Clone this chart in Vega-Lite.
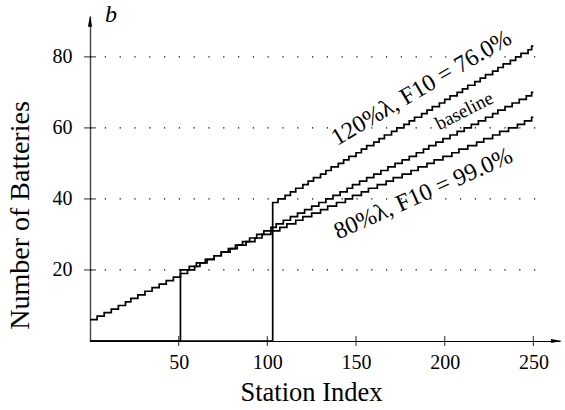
{
  "$schema": "https://vega.github.io/schema/vega-lite/v6.json",
  "width": 470,
  "height": 325,
  "autosize": {"type": "none"},
  "padding": {"left": 90, "top": 16, "right": 5, "bottom": 69},
  "background": "white",
  "config": {
    "view": {"stroke": null},
    "font": "Liberation Serif"
  },
  "datasets": {
    "lines": [
      {"k":"base","s":0,"b":6},{"k":"base","s":4,"b":7},{"k":"base","s":8,"b":8},{"k":"base","s":12,"b":9},{"k":"base","s":16,"b":10},{"k":"base","s":20,"b":11},{"k":"base","s":23,"b":12},{"k":"base","s":27,"b":13},{"k":"base","s":31,"b":14},{"k":"base","s":35,"b":15},{"k":"base","s":39,"b":16},{"k":"base","s":43,"b":17},{"k":"base","s":47,"b":18},{"k":"base","s":51,"b":19},{"k":"base","s":55,"b":20},{"k":"base","s":59,"b":21},{"k":"base","s":62,"b":22},{"k":"base","s":66,"b":23},{"k":"base","s":70,"b":24},{"k":"base","s":74,"b":25},{"k":"base","s":78,"b":26},{"k":"base","s":82,"b":27},{"k":"base","s":86,"b":28},{"k":"base","s":90,"b":29},{"k":"base","s":94,"b":30},{"k":"base","s":98,"b":31},{"k":"base","s":102,"b":32},{"k":"base","s":105,"b":33},{"k":"base","s":109,"b":34},{"k":"base","s":113,"b":35},{"k":"base","s":117,"b":36},{"k":"base","s":121,"b":37},{"k":"base","s":125,"b":38},{"k":"base","s":129,"b":39},{"k":"base","s":133,"b":40},{"k":"base","s":137,"b":41},{"k":"base","s":141,"b":42},{"k":"base","s":145,"b":43},{"k":"base","s":148,"b":44},{"k":"base","s":152,"b":45},{"k":"base","s":156,"b":46},{"k":"base","s":160,"b":47},{"k":"base","s":164,"b":48},{"k":"base","s":168,"b":49},{"k":"base","s":172,"b":50},{"k":"base","s":176,"b":51},{"k":"base","s":180,"b":52},{"k":"base","s":184,"b":53},{"k":"base","s":188,"b":54},{"k":"base","s":191,"b":55},{"k":"base","s":195,"b":56},{"k":"base","s":199,"b":57},{"k":"base","s":203,"b":58},{"k":"base","s":207,"b":59},{"k":"base","s":211,"b":60},{"k":"base","s":215,"b":61},{"k":"base","s":219,"b":62},{"k":"base","s":223,"b":63},{"k":"base","s":227,"b":64},{"k":"base","s":230,"b":65},{"k":"base","s":234,"b":66},{"k":"base","s":238,"b":67},{"k":"base","s":242,"b":68},{"k":"base","s":246,"b":69},{"k":"base","s":249,"b":70},{"k":"base","s":250,"b":70},
      {"k":"lo","s":0,"b":0},{"k":"lo","s":51,"b":20},{"k":"lo","s":56,"b":21},{"k":"lo","s":60,"b":22},{"k":"lo","s":65,"b":23},{"k":"lo","s":70,"b":24},{"k":"lo","s":74,"b":25},{"k":"lo","s":79,"b":26},{"k":"lo","s":83,"b":27},{"k":"lo","s":88,"b":28},{"k":"lo","s":93,"b":29},{"k":"lo","s":97,"b":30},{"k":"lo","s":102,"b":31},{"k":"lo","s":107,"b":32},{"k":"lo","s":111,"b":33},{"k":"lo","s":116,"b":34},{"k":"lo","s":120,"b":35},{"k":"lo","s":125,"b":36},{"k":"lo","s":130,"b":37},{"k":"lo","s":134,"b":38},{"k":"lo","s":139,"b":39},{"k":"lo","s":144,"b":40},{"k":"lo","s":148,"b":41},{"k":"lo","s":153,"b":42},{"k":"lo","s":157,"b":43},{"k":"lo","s":162,"b":44},{"k":"lo","s":167,"b":45},{"k":"lo","s":171,"b":46},{"k":"lo","s":176,"b":47},{"k":"lo","s":181,"b":48},{"k":"lo","s":185,"b":49},{"k":"lo","s":190,"b":50},{"k":"lo","s":194,"b":51},{"k":"lo","s":199,"b":52},{"k":"lo","s":204,"b":53},{"k":"lo","s":208,"b":54},{"k":"lo","s":213,"b":55},{"k":"lo","s":218,"b":56},{"k":"lo","s":222,"b":57},{"k":"lo","s":227,"b":58},{"k":"lo","s":231,"b":59},{"k":"lo","s":236,"b":60},{"k":"lo","s":241,"b":61},{"k":"lo","s":245,"b":62},{"k":"lo","s":249,"b":63},{"k":"lo","s":250,"b":63},
      {"k":"hi","s":0,"b":0},{"k":"hi","s":103,"b":39},{"k":"hi","s":106,"b":40},{"k":"hi","s":110,"b":41},{"k":"hi","s":113,"b":42},{"k":"hi","s":116,"b":43},{"k":"hi","s":120,"b":44},{"k":"hi","s":123,"b":45},{"k":"hi","s":126,"b":46},{"k":"hi","s":130,"b":47},{"k":"hi","s":133,"b":48},{"k":"hi","s":136,"b":49},{"k":"hi","s":140,"b":50},{"k":"hi","s":143,"b":51},{"k":"hi","s":146,"b":52},{"k":"hi","s":150,"b":53},{"k":"hi","s":153,"b":54},{"k":"hi","s":156,"b":55},{"k":"hi","s":160,"b":56},{"k":"hi","s":163,"b":57},{"k":"hi","s":166,"b":58},{"k":"hi","s":170,"b":59},{"k":"hi","s":173,"b":60},{"k":"hi","s":177,"b":61},{"k":"hi","s":180,"b":62},{"k":"hi","s":183,"b":63},{"k":"hi","s":187,"b":64},{"k":"hi","s":190,"b":65},{"k":"hi","s":193,"b":66},{"k":"hi","s":197,"b":67},{"k":"hi","s":200,"b":68},{"k":"hi","s":203,"b":69},{"k":"hi","s":207,"b":70},{"k":"hi","s":210,"b":71},{"k":"hi","s":213,"b":72},{"k":"hi","s":217,"b":73},{"k":"hi","s":220,"b":74},{"k":"hi","s":223,"b":75},{"k":"hi","s":227,"b":76},{"k":"hi","s":230,"b":77},{"k":"hi","s":233,"b":78},{"k":"hi","s":237,"b":79},{"k":"hi","s":240,"b":80},{"k":"hi","s":243,"b":81},{"k":"hi","s":247,"b":82},{"k":"hi","s":249,"b":83},{"k":"hi","s":250,"b":83}
    ],
    "grid": [{"g":20},{"g":40},{"g":60},{"g":80}],
    "xticks": [{"t":50},{"t":100},{"t":150},{"t":200},{"t":250}]
  },
  "layer": [
    {
      "data": {"name": "grid"},
      "mark": {"type": "rule", "color": "#000", "strokeWidth": 1.2, "strokeDash": [1.2, 13.6]},
      "encoding": {
        "x": {"datum": 0, "type": "quantitative", "scale": {"domain": [0, 265], "nice": false}},
        "x2": {"datum": 252},
        "y": {"field": "g", "type": "quantitative", "scale": {"domain": [0, 91.5], "nice": false}}
      }
    },
    {
      "data": {"name": "lines"},
      "mark": {"type": "line", "interpolate": "step-after", "color": "#000", "strokeWidth": 1.7, "clip": false},
      "encoding": {
        "x": {
          "field": "s", "type": "quantitative",
          "axis": {
            "values": [50, 100, 150, 200, 250], "ticks": false, "grid": false,
            "domainColor": "#000", "domainWidth": 1.2,
            "labelFont": "Liberation Serif", "labelFontSize": 20, "labelColor": "#000", "labelPadding": 11,
            "title": "Station Index", "titleFont": "Liberation Serif", "titleFontSize": 26.5, "titleFontWeight": "normal", "titleColor": "#000",
            "titleX": 221, "titleY": 59, "titleBaseline": "alphabetic", "titleAlign": "center"
          }
        },
        "y": {
          "field": "b", "type": "quantitative",
          "axis": {
            "values": [20, 40, 60, 80], "ticks": false, "grid": false,
            "domainColor": "#444", "domainWidth": 1.4,
            "labelFont": "Liberation Serif", "labelFontSize": 20, "labelColor": "#000", "labelPadding": 18,
            "title": "Number of Batteries", "titleFont": "Liberation Serif", "titleFontSize": 28, "titleFontWeight": "normal", "titleColor": "#000",
            "titleX": -62, "titleY": 199, "titleBaseline": "alphabetic", "titleAlign": "center", "titleAngle": -90
          }
        },
        "detail": {"field": "k"}
      }
    },
    {
      "data": {"name": "grid"},
      "mark": {"type": "tick", "orient": "horizontal", "color": "#000", "size": 12, "thickness": 1.2},
      "encoding": {
        "x": {"datum": 0, "type": "quantitative"},
        "y": {"field": "g", "type": "quantitative"}
      }
    },
    {
      "data": {"name": "xticks"},
      "mark": {"type": "tick", "orient": "vertical", "color": "#000", "size": 10, "thickness": 1.2},
      "encoding": {
        "x": {"field": "t", "type": "quantitative"},
        "y": {"datum": 0, "type": "quantitative"}
      }
    },
    {
      "data": {"values": [{"s": 0, "b": 90}]},
      "mark": {"type": "point", "shape": "M0,-1L-0.38,1L0.38,1Z", "size": 121, "filled": true, "color": "#000", "opacity": 1, "clip": false},
      "encoding": {
        "x": {"field": "s", "type": "quantitative"},
        "y": {"field": "b", "type": "quantitative"}
      }
    },
    {
      "data": {"values": [{"s": 263, "b": 0}]},
      "mark": {"type": "point", "shape": "M1,0L-1,-0.38L-1,0.38Z", "size": 121, "filled": true, "color": "#000", "opacity": 1, "clip": false},
      "encoding": {
        "x": {"field": "s", "type": "quantitative"},
        "y": {"field": "b", "type": "quantitative"}
      }
    },
    {
      "data": {"values": [{"s": 11.8, "b": 91.8, "t": "b"}]},
      "mark": {"type": "text", "font": "Liberation Serif", "fontStyle": "italic", "fontSize": 24, "color": "#000", "align": "center", "baseline": "middle", "clip": false},
      "encoding": {
        "x": {"field": "s", "type": "quantitative"},
        "y": {"field": "b", "type": "quantitative"},
        "text": {"field": "t"}
      }
    },
    {
      "data": {"values": [{"s": 187, "b": 71.2, "t": "120%λ, F10 = 76.0%"}]},
      "mark": {"type": "text", "font": "Liberation Serif", "fontSize": 24, "angle": -30.5, "color": "#000", "align": "center", "baseline": "middle"},
      "encoding": {
        "x": {"field": "s", "type": "quantitative"},
        "y": {"field": "b", "type": "quantitative"},
        "text": {"field": "t"}
      }
    },
    {
      "data": {"values": [{"s": 211, "b": 64.8, "t": "baseline"}]},
      "mark": {"type": "text", "font": "Liberation Serif", "fontSize": 19, "angle": -27, "color": "#000", "align": "center", "baseline": "middle"},
      "encoding": {
        "x": {"field": "s", "type": "quantitative"},
        "y": {"field": "b", "type": "quantitative"},
        "text": {"field": "t"}
      }
    },
    {
      "data": {"values": [{"s": 188, "b": 41.4, "t": "80%λ, F10 = 99.0%"}]},
      "mark": {"type": "text", "font": "Liberation Serif", "fontSize": 24, "angle": -24, "color": "#000", "align": "center", "baseline": "middle"},
      "encoding": {
        "x": {"field": "s", "type": "quantitative"},
        "y": {"field": "b", "type": "quantitative"},
        "text": {"field": "t"}
      }
    }
  ]
}
